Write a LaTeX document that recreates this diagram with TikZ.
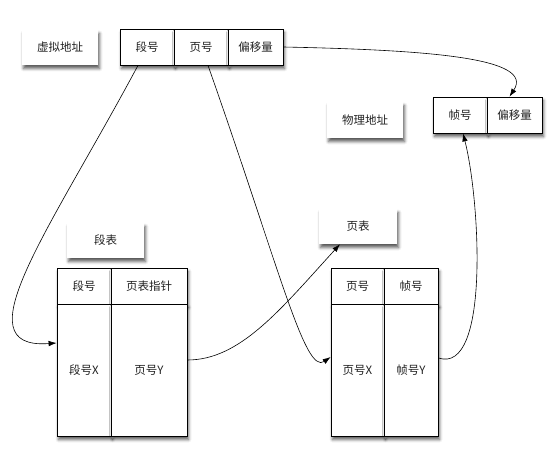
\documentclass[tikz,border=0pt]{standalone}
\usepackage{fontspec}
\setmainfont{Noto Sans CJK SC}
\usetikzlibrary{arrows.meta,shadows.blur}
\definecolor{inkgray}{HTML}{222222}

\begin{document}
\begin{tikzpicture}[x=1pt, y=-1pt,
  every node/.style={font=\fontsize{11.5}{13}\selectfont, text=inkgray},
  tag/.style={fill=white, inner sep=0pt, blur shadow={shadow xshift=1.5pt, shadow yshift=-3.5pt, shadow blur radius=3pt, shadow opacity=65}},
  cell/.style={tag, draw=black, line width=0.8pt},
  link/.style={-{Latex[length=8pt,width=5.5pt]}, line width=0.6pt}]
  \useasboundingbox (0,0) rectangle (559,465);
  % labels
  \node[tag, minimum width=76pt, minimum height=35pt] (vlabel) at (60,47.5) {虚拟地址};
  \node[tag, minimum width=76pt, minimum height=36pt] (plabel) at (365,120) {物理地址};
  \node[tag, minimum width=77pt, minimum height=35pt] (stlabel) at (105.5,240.5) {段表};
  \node[tag, minimum width=78pt, minimum height=35pt] (ptlabel) at (358,226.5) {页表};
  % virtual address
  \node[cell, minimum width=54pt, minimum height=36pt] (vseg) at (147,47) {段号};
  \node[cell, minimum width=54pt, minimum height=36pt] (vpage) at (201,47) {页号};
  \node[cell, minimum width=55pt, minimum height=36pt] (voff) at (255.5,47) {偏移量};
  % physical address
  \node[cell, minimum width=54pt, minimum height=36pt] (pframe) at (460,115) {帧号};
  \node[cell, minimum width=55pt, minimum height=36pt] (poff) at (514.5,115) {偏移量};
  % segment table
  \node[cell, minimum width=54pt, minimum height=36pt] (sthead1) at (84,286) {段号};
  \node[cell, minimum width=76pt, minimum height=36pt] (sthead2) at (149,286) {页表指针};
  \node[cell, minimum width=54pt, minimum height=132pt] (stx) at (84,370) {段号X};
  \node[cell, minimum width=76pt, minimum height=132pt] (sty) at (149,370) {页号Y};
  % page table
  \node[cell, minimum width=53pt, minimum height=36pt] (pthead1) at (357.5,286) {页号};
  \node[cell, minimum width=54pt, minimum height=36pt] (pthead2) at (411,286) {帧号};
  \node[cell, minimum width=53pt, minimum height=132pt] (ptx) at (357.5,370) {页号X};
  \node[cell, minimum width=54pt, minimum height=132pt] (pty) at (411,370) {帧号Y};
  % links
  \draw[link] (voff.east) .. controls (430,50) and (535,58) .. ([xshift=-5pt]poff.north);
  \draw[link] ([xshift=-9pt]vseg.south) .. controls (50,230) and (-40,350) .. ([yshift=27pt]stx.west);
  \draw[link] ([xshift=7pt]vpage.south) .. controls (280,270) and (305,375) .. ([yshift=13pt]ptx.west);
  \draw[link] ([yshift=10pt]sty.east) .. controls (240,360) and (280,310) .. ([xshift=-18pt]ptlabel.south);
  \draw[link] ([yshift=12pt]pty.east) .. controls (490,375) and (480,200) .. ([xshift=3pt]pframe.south);
\end{tikzpicture}
\end{document}
